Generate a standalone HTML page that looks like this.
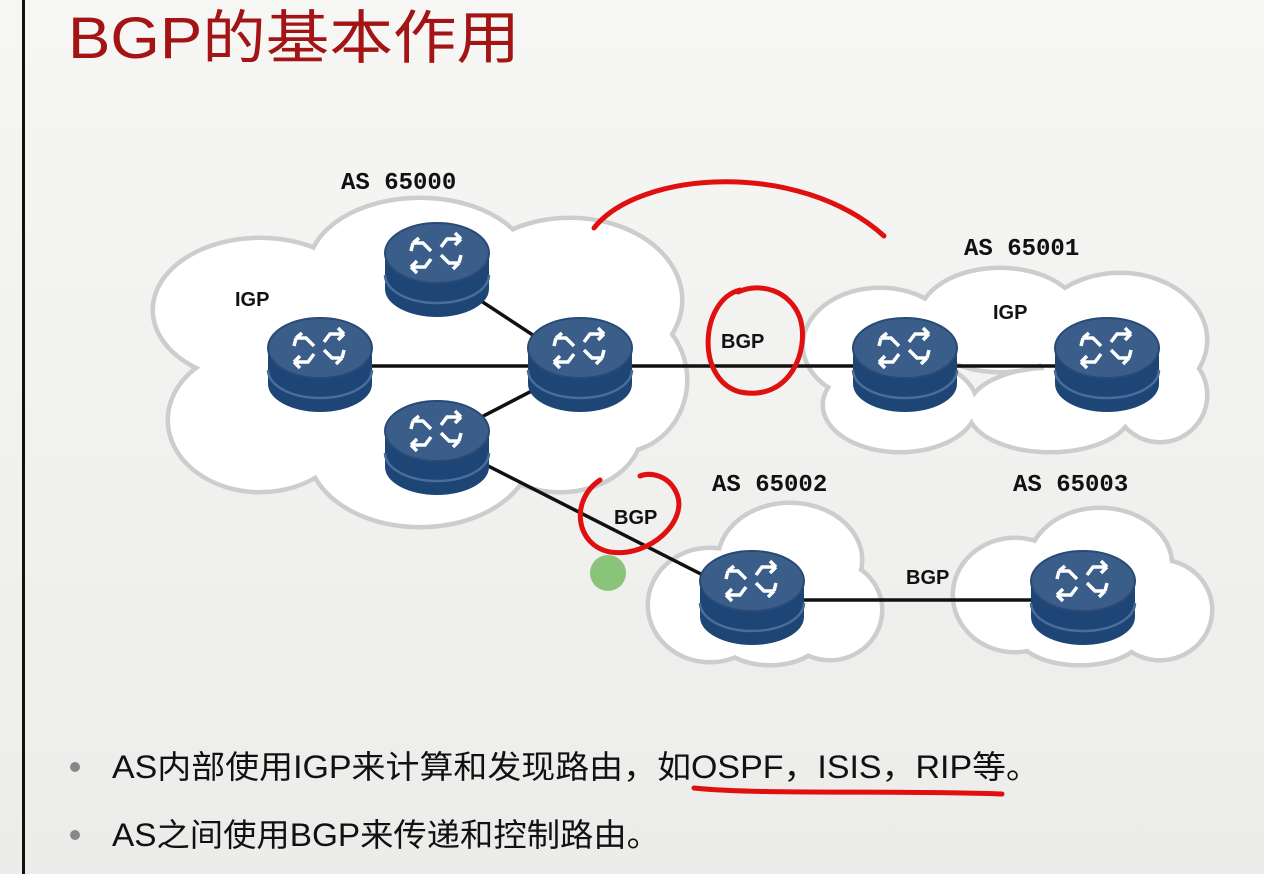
<!DOCTYPE html>
<html><head><meta charset="utf-8"><style>
html,body{margin:0;padding:0;background:#f4f4f2;}
svg{display:block;}
text{font-family:"Liberation Sans","Noto Sans CJK SC",sans-serif;}
text.m{font-family:"Liberation Mono",monospace;}
</style></head><body>
<svg width="1264" height="874" viewBox="0 0 1264 874" xmlns="http://www.w3.org/2000/svg">
<defs>
<linearGradient id="bg" x1="0" y1="0" x2="0" y2="1"><stop offset="0" stop-color="#f6f6f4"/><stop offset="1" stop-color="#ececea"/></linearGradient>
<g id="r">
  <path d="M-52,0 L-52,36 A52,28 0 0 0 52,36 L52,0 Z" fill="#1d4576"/>
  <path d="M-52,22 A52,28 0 0 0 52,22" fill="none" stroke="#4a6d99" stroke-width="2.5"/>
  <ellipse cx="0" cy="0" rx="52" ry="30" fill="#3a5d8a"/>
  <ellipse cx="0" cy="0" rx="52" ry="30" fill="none" stroke="#2a4a76" stroke-width="2"/>
  <g stroke="#fff" stroke-width="3.5" fill="none">
    <path d="M-24,-10 L-14,-10 L-6,-2 M-24,-10 L-26,-2 M-24,-10 L-18,-15"/>
    <path d="M24,-14 L10,-14 L4,-6 M24,-14 L18,-20 M24,-14 L18,-8"/>
    <path d="M-26,14 L-12,14 L-6,6 M-26,14 L-20,8 M-26,14 L-20,20"/>
    <path d="M22,10 L12,10 L4,2 M22,10 L24,2 M22,10 L16,16"/>
  </g>
</g>
<g id="clouds">
   <ellipse cx="260" cy="310" rx="105" ry="70"/><ellipse cx="420" cy="270" rx="110" ry="70"/><ellipse cx="570" cy="300" rx="110" ry="80"/><ellipse cx="620" cy="380" rx="65" ry="70"/>
   <ellipse cx="260" cy="420" rx="90" ry="70"/><ellipse cx="420" cy="450" rx="110" ry="75"/><ellipse cx="560" cy="430" rx="80" ry="60"/><ellipse cx="400" cy="360" rx="150" ry="100"/>
  <ellipse cx="880" cy="345" rx="75" ry="55"/><ellipse cx="1000" cy="320" rx="80" ry="50"/><ellipse cx="1120" cy="340" rx="85" ry="65"/><ellipse cx="900" cy="405" rx="75" ry="45"/><ellipse cx="1050" cy="410" rx="80" ry="40"/><ellipse cx="1160" cy="395" rx="45" ry="45"/>
  <ellipse cx="710" cy="605" rx="60" ry="55"/><ellipse cx="790" cy="560" rx="70" ry="55"/><ellipse cx="830" cy="610" rx="50" ry="48"/><ellipse cx="770" cy="635" rx="50" ry="28"/>
  <ellipse cx="1015" cy="595" rx="60" ry="55"/><ellipse cx="1100" cy="565" rx="70" ry="55"/><ellipse cx="1160" cy="610" rx="50" ry="48"/><ellipse cx="1080" cy="635" rx="60" ry="28"/>
</g>
</defs>
<rect width="1264" height="874" fill="url(#bg)"/>
<rect x="22" y="0" width="3" height="874" fill="#111"/>
<text x="68" y="58" font-size="58" fill="#a31515" textLength="452" lengthAdjust="spacingAndGlyphs">BGP的基本作用</text>

<use href="#clouds" fill="#fff" stroke="#cdcdcd" stroke-width="9"/>
<use href="#clouds" fill="#fff"/>

<g stroke="#111" stroke-width="3.5">
  <line x1="320" y1="366" x2="1107" y2="366"/>
  <line x1="437" y1="272" x2="580" y2="366"/>
  <line x1="437" y1="440" x2="580" y2="366"/>
  <line x1="437" y1="440" x2="752" y2="600"/>
  <line x1="752" y1="600" x2="1083" y2="600"/>
</g>

<use href="#r" x="437" y="253"/>
<use href="#r" x="320" y="348"/>
<use href="#r" x="580" y="348"/>
<use href="#r" x="437" y="431"/>
<use href="#r" x="905" y="348"/>
<use href="#r" x="1107" y="348"/>
<use href="#r" x="752" y="581"/>
<use href="#r" x="1083" y="581"/>

<g font-size="24" font-weight="bold" fill="#111">
  <text class="m" x="341" y="189">AS 65000</text>
  <text class="m" x="964" y="255">AS 65001</text>
  <text class="m" x="712" y="491">AS 65002</text>
  <text class="m" x="1013" y="491">AS 65003</text>
</g>
<g font-size="20" font-weight="bold" fill="#111">
  <text x="235" y="306">IGP</text>
  <text x="993" y="319">IGP</text>
  <text x="721" y="348">BGP</text>
  <text x="614" y="524">BGP</text>
  <text x="906" y="584">BGP</text>
</g>

<circle cx="608" cy="573" r="18" fill="#7cc06e" opacity="0.9"/>

<g stroke="#e01010" stroke-width="5" fill="none" stroke-linecap="round">
  <path d="M594,228 C640,170 800,160 884,236"/>
  <path d="M740,290 C700,300 695,380 740,392 C790,402 810,350 800,318 C790,290 760,282 738,292"/>
  <path d="M600,480 C570,500 575,545 610,552 C650,558 690,520 676,492 C668,475 650,472 640,476"/>
  <path d="M694,788 C760,795 900,790 1002,794"/>
</g>

<circle cx="75" cy="767" r="5" fill="#888"/>
<circle cx="75" cy="835" r="5" fill="#888"/>
<text x="112" y="778" font-size="32" fill="#111" textLength="928" lengthAdjust="spacingAndGlyphs">AS内部使用IGP来计算和发现路由，如OSPF，ISIS，RIP等。</text>
<text x="112" y="846" font-size="32" fill="#111" textLength="548" lengthAdjust="spacingAndGlyphs">AS之间使用BGP来传递和控制路由。</text>
</svg>
</body></html>
